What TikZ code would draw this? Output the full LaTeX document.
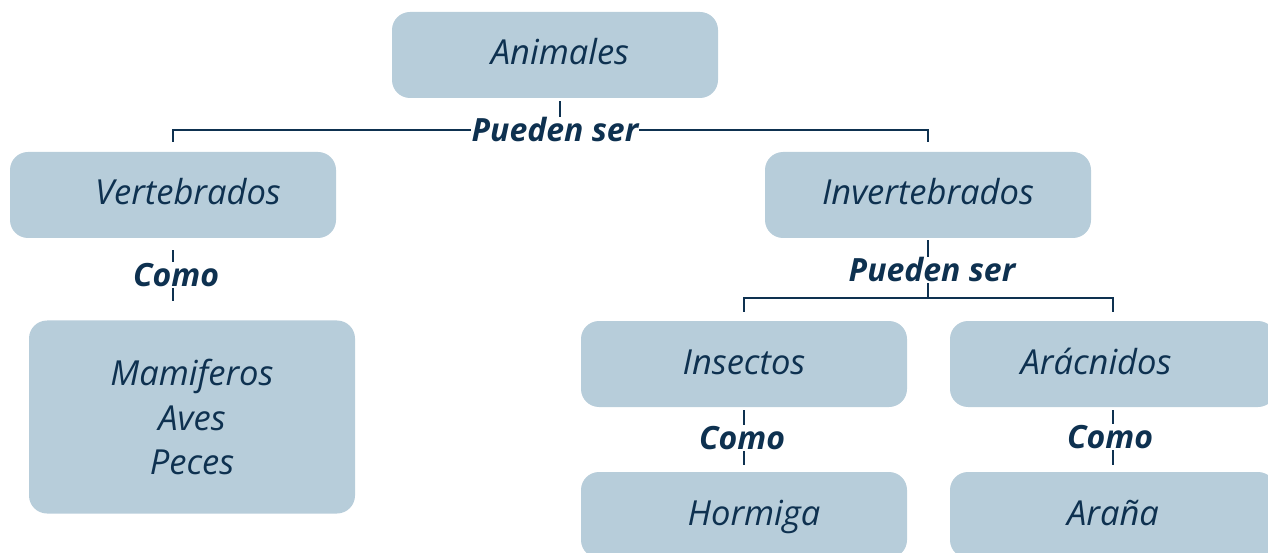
\documentclass[tikz,border=0pt]{standalone}
\usepackage{fontspec}
\setmainfont{Open Sans}
\definecolor{boxfill}{HTML}{B7CDDA}
\definecolor{ink}{HTML}{0E3150}
\tikzset{
	box/.style={fill=boxfill, rounded corners=18pt, minimum width=326pt,
		minimum height=86pt, inner sep=0pt, text=ink,
		text height=26pt, text depth=6pt,
		font=\fontsize{34.5}{44.5}\selectfont\itshape, align=center},
	link/.style={draw=ink, line width=2.8pt},
	conn/.style={fill=white, inner sep=1pt, text=ink,
		font=\fontsize{32}{36}\selectfont\bfseries\itshape}
}
\begin{document}
\begin{tikzpicture}[x=1pt,y=1pt]
	
	\useasboundingbox (0,0) rectangle (1268,552);
	
	% Boxes
	\node [box] (anim) at (555, 497) {\hspace*{10pt}Animales};
	\node [box] (vert) at (173, 357) {\hspace*{30pt}Vertebrados};
	\node [box] (invert) at (928, 357) {Invertebrados};
	\node [box, text height=, text depth=, minimum height=193pt] (mami) at (192, 135) {Mamiferos\\Aves\\Peces};
	\node [box] (insec) at (744, 188) {Insectos};
	\node [box] (arac) at (1113, 188) {Arácnidos\hspace*{34pt}};
	\node [box] (horm) at (744, 37) {\hspace*{20pt}Hormiga};
	\node [box] (aran) at (1113, 37) {Araña};
	
	% Animales
	\coordinate (barA) at (0, 422);
	\draw [link] ([yshift=10pt]vert.north) -- (vert.north |- barA)
		-- (invert.north |- barA) -- ([yshift=10pt]invert.north);
	\draw [link, shorten <=3pt] ([xshift=5pt]anim.south) -- ([xshift=5pt]anim.south |- barA);
	\node [conn] (canim) at (anim.south |- barA) {Pueden ser};
	
	% Vertebrados
	\draw [link, shorten <=12pt, shorten >=19pt] (vert.south) -- (vert.south |- mami.north);
	\node [conn] (cvert) at (176, 277) {Como};
	
	% Invertebrados
	\coordinate (barB) at (0, 254);
	\draw [link, shorten <=2pt] (invert.south) -- (invert.south |- barB);
	\draw [link] ([yshift=9pt]insec.north) -- (insec.north |- barB)
		-- (arac.north |- barB) -- ([yshift=9pt]arac.north);
	\node [conn] (cinvert) at (932, 282) {Pueden ser};
	
	% Insectos y Arácnidos
	\draw [link, shorten <=3pt, shorten >=7pt] (insec.south) -- (horm.north);
	\node [conn] (cinsec) at (742, 114) {Como};
	\draw [link, shorten <=3pt, shorten >=7pt] (arac.south) -- (aran.north);
	\node [conn] (carac) at (1110, 115) {Como};
	
\end{tikzpicture}
\end{document}
